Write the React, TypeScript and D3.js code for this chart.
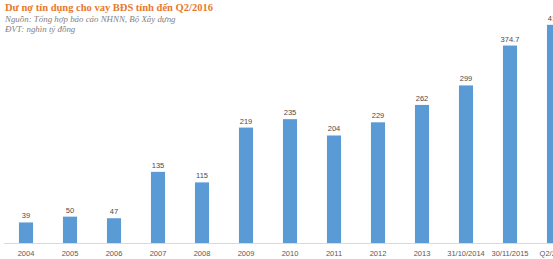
import React from "react";
import * as d3 from "d3";

const categories = ["2004","2005","2006","2007","2008","2009","2010","2011","2012","2013","31/10/2014","30/11/2015","Q2/2016"];
const values = [39,50,47,135,115,219,235,204,229,262,299,374.7,414];
const valueLabels = ["39","50","47","135","115","219","235","204","229","262","299","374.7","414"];

const W = 553, H = 259;

export default function App() {
  const x = d3.scaleBand<string>().domain(categories).range([4, 4 + 44 * categories.length]).paddingInner(0.68).paddingOuter(0.34);
  const baseY = 243;
  const y = d3.scaleLinear().domain([0, 400]).range([baseY, baseY - 210.8]);
  return (
    <svg width={W} height={H} style={{ position: "absolute", left: 0, top: 0, background: "#fff" }}>
      <rect width={W} height={H} fill="#fff" />
      <line x1={4} x2={W} y1={baseY + 0.5} y2={baseY + 0.5} stroke="#d9d9d9" strokeWidth={1} />
      {categories.map((c, i) => {
        const bx = x(c)!;
        const bw = x.bandwidth();
        const cx = bx + bw / 2;
        return (
          <g key={c}>
            <rect x={bx} y={y(values[i])} width={bw} height={baseY - y(values[i])} fill="#5b9bd5" />
            <text x={cx} y={y(values[i]) - 4} textAnchor="middle" fontSize={7.5} fill="#4a4a4a" fontFamily="Liberation Sans, Arial, sans-serif">{valueLabels[i]}</text>
            <text x={cx} y={255.5} textAnchor="middle" fontSize={7.5} fill="#595959" fontFamily="Liberation Sans, Arial, sans-serif">{c}</text>
          </g>
        );
      })}
      <text x={5} y={11} fontSize={10.5} fontWeight="bold" fill="#e8792b" fontFamily="Liberation Serif, Times New Roman, serif">Dư nợ tín dụng cho vay BĐS tính đến Q2/2016</text>
      <text x={5} y={22} fontSize={8.9} fontStyle="italic" fill="#7f7f7f" fontFamily="Liberation Serif, Times New Roman, serif">Nguồn: Tổng hợp báo cáo NHNN, Bộ Xây dựng</text>
      <text x={5} y={32} fontSize={8.9} fontStyle="italic" fill="#7f7f7f" fontFamily="Liberation Serif, Times New Roman, serif">ĐVT:  nghìn tỷ đồng</text>
    </svg>
  );
}
